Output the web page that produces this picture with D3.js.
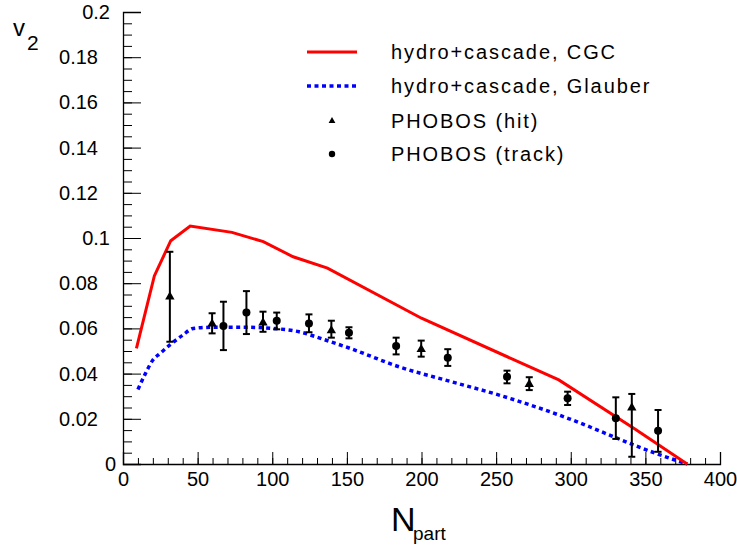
<!DOCTYPE html>
<html><head><meta charset="utf-8">
<script src="https://cdn.jsdelivr.net/npm/d3@7"></script>
<style>body{margin:0;background:#fff}svg{display:block}text{font-family:"Liberation Sans",Arial,sans-serif}</style>
</head><body><svg id="c" width="737" height="546"></svg>
<script>
// Model curves: [Npart, v2]
const cgcN  = [9, 21, 32, 45, 73, 94, 114, 137, 200, 292, 343, 378];
const cgcV  = [0.0512, 0.0832, 0.0988, 0.1053, 0.1025, 0.0984, 0.0917, 0.0867, 0.0645, 0.0372, 0.0155, 0.0];
const glbN  = [10, 15, 20, 25, 32, 40, 47, 60, 80, 100, 118, 135, 152, 185, 219, 252, 299, 339, 357, 378];
const glbV  = [0.033, 0.040, 0.046, 0.049, 0.053, 0.057, 0.060, 0.0605, 0.0605, 0.060, 0.0585, 0.055, 0.0512, 0.043, 0.0366, 0.0305, 0.0200, 0.0093, 0.0047, 0.0];
// PHOBOS hit (triangles)
const hitN  = [31.4, 59.7, 93.8, 139.6, 199.8, 272.2, 340.9];
const hitV  = [0.0740, 0.0620, 0.0625, 0.0590, 0.0507, 0.0353, 0.0249];
const hitLo = [0.0541, 0.0578, 0.0585, 0.0559, 0.0475, 0.0327, 0.0032];
const hitHi = [0.0939, 0.0667, 0.0674, 0.0634, 0.0546, 0.0384, 0.0310];
// PHOBOS track (circles)
const trkN  = [67.3, 82.7, 103, 124.6, 151.4, 183, 217.6, 257.3, 297.9, 330.2, 358.5];
const trkV  = [0.0611, 0.0670, 0.0634, 0.0622, 0.0581, 0.0522, 0.0470, 0.0386, 0.0291, 0.0202, 0.0147];
const trkLo = [0.0504, 0.0575, 0.0596, 0.0583, 0.0556, 0.0485, 0.0434, 0.0357, 0.0261, 0.0111, 0.0054];
const trkHi = [0.0718, 0.0765, 0.0670, 0.0662, 0.0605, 0.0559, 0.0508, 0.0413, 0.0320, 0.0295, 0.0239];
const xTicks = [0, 50, 100, 150, 200, 250, 300, 350, 400];
const yTicks = [0, 0.02, 0.04, 0.06, 0.08, 0.1, 0.12, 0.14, 0.16, 0.18, 0.2];
const yTickLabels = ["0", "0.02", "0.04", "0.06", "0.08", "0.1", "0.12", "0.14", "0.16", "0.18", "0.2"];
const legendLabels = ["hydro+cascade, CGC", "hydro+cascade, Glauber", "PHOBOS (hit)", "PHOBOS (track)"];

const svg = d3.select("#c");
const x = d3.scaleLinear().domain([0, 400]).range([123, 720]);
const y = d3.scaleLinear().domain([0, 0.2]).range([464, 12]);

// axes
const yMinor = d3.range(0, 0.2001, 0.005);
const xMinor = d3.range(0, 400.1, 10);
svg.append("g").attr("transform", "translate(123,0)")
  .call(d3.axisLeft(y).tickValues(yMinor).tickSize(-9).tickFormat(""))
  .call(g => g.select(".domain").remove());
svg.append("g").attr("transform", "translate(0,464)")
  .call(d3.axisBottom(x).tickValues(xMinor).tickSize(-6).tickFormat(""))
  .call(g => g.select(".domain").remove());
const ya = svg.append("g").attr("transform", "translate(123,0)")
  .call(d3.axisLeft(y).tickValues(yTicks).tickSize(-18).tickPadding(25).tickFormat((d, i) => yTickLabels[i]));
const xa = svg.append("g").attr("transform", "translate(0,464)")
  .call(d3.axisBottom(x).tickValues(xTicks).tickSize(-12).tickPadding(8).tickFormat(d3.format("d")));
svg.selectAll(".tick line").attr("stroke", "#000").attr("stroke-width", 1);
svg.selectAll(".domain").attr("stroke", "#000").attr("stroke-width", 1.3);
ya.selectAll("text").attr("font-size", 20).attr("fill", "#000").attr("font-family", "Liberation Sans, Arial, sans-serif")
  .attr("dx", (d, i) => ({4: 0, 3: 12, 1: 18})[yTickLabels[i].length]);
xa.selectAll("text").attr("font-size", 20).attr("fill", "#000").attr("font-family", "Liberation Sans, Arial, sans-serif");

// curves
const line = d3.line().x(d => x(d[0])).y(d => y(d[1]));
svg.append("path").datum(d3.zip(glbN, glbV)).attr("d", line.curve(d3.curveMonotoneX))
  .attr("fill", "none").attr("stroke", "#0000ff").attr("stroke-width", 3.5).attr("stroke-dasharray", "4,3.5");
svg.append("path").datum(d3.zip(cgcN, cgcV)).attr("d", line.curve(d3.curveLinear))
  .attr("fill", "none").attr("stroke", "#ff0000").attr("stroke-width", 3);

// error bars
function errBars(N, lo, hi) {
  const g = svg.append("g").attr("stroke", "#000").attr("stroke-width", 2);
  N.forEach((n, i) => {
    g.append("line").attr("x1", x(n)).attr("x2", x(n)).attr("y1", y(lo[i])).attr("y2", y(hi[i]));
    [lo[i], hi[i]].forEach(v => g.append("line").attr("x1", x(n) - 3.5).attr("x2", x(n) + 3.5).attr("y1", y(v)).attr("y2", y(v)));
  });
}
errBars(hitN, hitLo, hitHi);
errBars(trkN, trkLo, trkHi);
const tri = d3.symbol().type(d3.symbolTriangle).size(38);
svg.append("g").selectAll("path").data(d3.zip(hitN, hitV)).join("path")
  .attr("d", tri).attr("transform", d => `translate(${x(d[0])},${y(d[1])})`).attr("fill", "#000");
svg.append("g").selectAll("circle").data(d3.zip(trkN, trkV)).join("circle")
  .attr("cx", d => x(d[0])).attr("cy", d => y(d[1])).attr("r", 4).attr("fill", "#000");

// legend
const lg = svg.append("g");
const ly = [52, 86, 121, 154];
lg.append("line").attr("x1", 307).attr("x2", 357).attr("y1", ly[0]).attr("y2", ly[0]).attr("stroke", "#ff0000").attr("stroke-width", 3);
lg.append("line").attr("x1", 307).attr("x2", 357).attr("y1", ly[1]).attr("y2", ly[1]).attr("stroke", "#0000ff").attr("stroke-width", 3.5).attr("stroke-dasharray", "4,3.5");
lg.append("path").attr("d", d3.symbol().type(d3.symbolTriangle).size(20)).attr("transform", `translate(332,${ly[2]})`).attr("fill", "#000");
lg.append("circle").attr("cx", 332).attr("cy", ly[3]).attr("r", 3.2).attr("fill", "#000");
legendLabels.forEach((t, i) => lg.append("text").attr("x", 391).attr("y", ly[i] + 7).attr("font-size", 20).attr("letter-spacing", 1.9).text(t));

// axis titles
const yt = svg.append("text").attr("x", 13).attr("y", 36).attr("font-size", 24);
yt.append("tspan").text("v");
yt.append("tspan").attr("x", 27).attr("y", 50).attr("font-size", 21).text("2");
const xt = svg.append("text").attr("x", 391).attr("y", 531).attr("font-size", 34);
xt.append("tspan").text("N");
xt.append("tspan").attr("x", 413).attr("y", 540).attr("font-size", 19).text("part");
</script></body></html>
